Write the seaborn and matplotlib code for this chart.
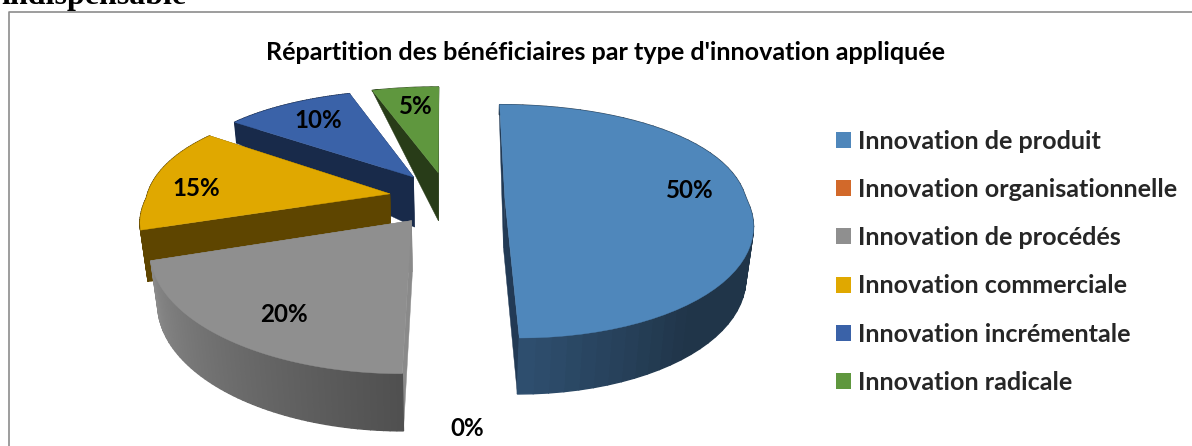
import numpy as np
import matplotlib
matplotlib.use("Agg")
import matplotlib.pyplot as plt
from matplotlib.patches import Polygon, Patch
from matplotlib.colors import to_rgb
import seaborn as sns

categories = ["Innovation de produit", "Innovation organisationnelle", "Innovation de procédés",
              "Innovation commerciale", "Innovation incrémentale", "Innovation radicale"]
shares = [50, 0, 20, 15, 10, 5]
title = "Répartition des bénéficiaires par type d'innovation appliquée"

colors = ["#4f87bb", "#d2692a", "#8f8f8f", "#e0a800", "#3a62a8", "#5f973e"]
wall_colors = ["#223a55", "#6b3515", "#8a8a8a", "#5e4500", "#182a4a", "#283c18"]
rim_start = ["#203549", "#6b3515", "#505050", "#5e4500", "#182a4a", "#283c18"]
rim_end = ["#2e4e6e", "#6b3515", "#8a8a8a", "#5e4500", "#182a4a", "#283c18"]
label_pos = [(690, 191), (467, 429), (284, 315), (196, 188), (318, 121), (416, 106)]

# pie geometry in pixels
cx, cy = 447, 198
R, S = 241, 112
persp_back, persp_front, persp_y = 0.1, 0.2, 0.2
explode = 0.24

sns.set_theme(style="white")
plt.rcParams['font.family'] = ['Lato', 'DejaVu Sans']


def project(u, v):
    wx = 1 + (persp_back if v > 0 else persp_front) * v
    stretch = 1 + 0.012 * np.clip(-u, 0, 1) * np.clip((0.6 - v) / 0.8, 0, 1)
    return cx + R * u * stretch / wx, cy - S * v / (1 + persp_y * v)


def project_low(u, v):
    x, y = project(u, v)
    d = np.clip(1.2 - v, 0, 1) * (50 - 6 * min(v, 0))
    return cx + (x - cx) * (1 - 0.025 * d / 52), y + d


def draw_slice(ax, i, a1, a2):
    m = (a1 + a2) / 2
    ex, ey = explode * np.sin(m), explode * np.cos(m)
    angles = np.linspace(a1, a2, 60)
    rim = [(ex + np.sin(a), ey + np.cos(a)) for a in angles]
    apex = (ex, ey)
    # cut faces
    for p in (rim[0], rim[-1]):
        quad = [project(*apex), project(*p), project_low(*p), project_low(*apex)]
        ax.add_patch(Polygon(quad, closed=True, fc=wall_colors[i], ec=wall_colors[i], lw=0.3))
    # outer wall, shaded along the rim
    c1, c2 = np.array(to_rgb(rim_start[i])), np.array(to_rgb(rim_end[i]))
    for k in range(len(rim) - 1):
        t = np.clip((k / (len(rim) - 2) - 0.8) / 0.2, 0, 1) if i == 0 else k / (len(rim) - 2)
        col = c1 + (c2 - c1) * t
        quad = [project(*rim[k]), project(*rim[k + 1]), project_low(*rim[k + 1]), project_low(*rim[k])]
        ax.add_patch(Polygon(quad, closed=True, fc=col, ec=col, lw=1.0))
    top = [project(*apex)] + [project(*p) for p in rim]
    ax.add_patch(Polygon(top, closed=True, fc=colors[i], ec=colors[i], lw=0.3))


fig = plt.figure(figsize=(11.92, 4.46), dpi=100)
ax = fig.add_axes([0, 0, 1, 1])
ax.set_xlim(0, 1192)
ax.set_ylim(446, 0)
ax.axis("off")

# frame of the chart
ax.plot([9, 9, 1192], [446, 12, 12], color="#8c8c8c", lw=1.2)
ax.text(1, 4, "indispensable", family="Liberation Serif", weight="bold", fontsize=23,
        color="black", ha="left", va="baseline", clip_on=True)

edges = np.cumsum([0] + shares) / sum(shares) * 2 * np.pi
for i in [5, 4, 3, 2, 0]:
    draw_slice(ax, i, edges[i], edges[i + 1])

for s, (x, y) in zip(shares, label_pos):
    ax.text(x, y, f"{s}%", ha="center", va="center", weight="bold", fontsize=17.4, color="black")

ax.text(606, 52, title, ha="center", va="center", weight="bold", fontsize=18.1, color="black")

handles = [Patch(fc=c, ec="none") for c in colors]
ax.legend(handles, categories, loc="upper left", bbox_to_anchor=(836 / 1192, 1 - 130 / 446), frameon=False,
          prop={"weight": "bold", "size": 18.1}, handlelength=0.6, handleheight=0.6, handletextpad=0.28,
          labelspacing=1.0, borderpad=0, borderaxespad=0)

fig.savefig("out.png", dpi=100)
